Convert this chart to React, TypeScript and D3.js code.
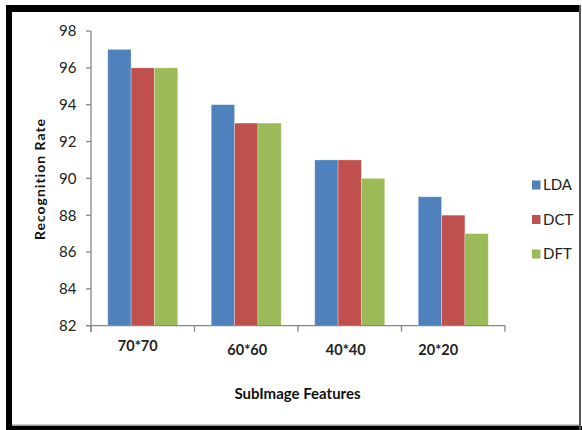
import React from "react";
import * as d3 from "d3";

const categories = ["70*70", "60*60", "40*40", "20*20"];
const seriesNames = ["LDA", "DCT", "DFT"];
const ldaValues = [97, 94, 91, 89];
const dctValues = [96, 93, 91, 88];
const dftValues = [96, 93, 90, 87];
const yTicks = [82, 84, 86, 88, 90, 92, 94, 96, 98];
const colors = ["#4F81BD", "#C0504D", "#9BBB59"];

// layout nudges for the category labels (as placed in the reference)
const labelDx = [-5, 1, -4, -15];
const labelDy = [-4, 0, 0, 0];

const W = 582;
const H = 430;
const plotLeft = 91;
const plotRight = 505;
const plotTop = 31;
const plotBottom = 325.7;
const FONT = "Lato, 'Open Sans', sans-serif";

export default function App() {
  const series = [ldaValues, dctValues, dftValues];
  const x0 = d3
    .scaleBand<string>()
    .domain(categories)
    .range([plotLeft, plotRight])
    .paddingInner(0.324)
    .paddingOuter(0.162);
  const x1 = d3
    .scaleBand<string>()
    .domain(seriesNames)
    .range([0, x0.bandwidth()]);
  const y = d3.scaleLinear().domain([82, 98]).range([plotBottom, plotTop]);
  const step = x0.step();
  const boundaries = d3.range(categories.length + 1).map((i) => plotLeft + i * step);
  const axisColor = "#888888";

  return (
    <svg
      width={W}
      height={H}
      style={{ position: "absolute", left: 0, top: 0, background: "#fff" }}
      fontFamily={FONT}
    >
      <rect x={0} y={0} width={W} height={H} fill="#fff" />
      {/* frame */}
      <rect x={6} y={5} width={575} height={7} fill="#000" />
      <rect x={6} y={5} width={6} height={425} fill="#000" />
      <rect x={6} y={426} width={576} height={4} fill="#000" />
      <rect x={12} y={424.5} width={568} height={1.5} fill="#999" />
      <rect x={579} y={5} width={2} height={425} fill="#555" />

      {/* bars */}
      {categories.map((c, ci) =>
        seriesNames.map((s, si) => {
          const v = series[si][ci];
          const bx = (x0(c) ?? 0) + (x1(s) ?? 0);
          return (
            <rect
              key={c + s}
              x={bx}
              y={y(v)}
              width={x1.bandwidth()}
              height={plotBottom - y(v)}
              fill={colors[si]}
              stroke="#ffffff"
              strokeOpacity={0.35}
              strokeWidth={0.8}
            />
          );
        })
      )}

      {/* y axis */}
      <line x1={plotLeft} x2={plotLeft} y1={plotTop} y2={plotBottom + 6} stroke={axisColor} strokeWidth={1.3} />
      {yTicks.map((t) => (
        <g key={t}>
          <line x1={plotLeft - 5} x2={plotLeft} y1={y(t)} y2={y(t)} stroke={axisColor} strokeWidth={1.3} />
          <text x={76.5} y={y(t)} dy="0.36em" textAnchor="end" fontSize={15} fill="#222">
            {t}
          </text>
        </g>
      ))}

      {/* x axis */}
      <line x1={plotLeft - 5} x2={plotRight} y1={plotBottom} y2={plotBottom} stroke={axisColor} strokeWidth={1.3} />
      {boundaries.map((b, i) => (
        <line key={i} x1={b} x2={b} y1={plotBottom} y2={plotBottom + 6} stroke={axisColor} strokeWidth={1.3} />
      ))}
      {categories.map((c, i) => (
        <text
          key={c}
          x={(x0(c) ?? 0) + x0.bandwidth() / 2 + labelDx[i]}
          y={350 + labelDy[i]}
          dy="0.36em"
          textAnchor="middle"
          fontSize={14.5}
          fontWeight="bold"
          fill="#222"
        >
          {c}
        </text>
      ))}

      {/* axis titles */}
      <text x={297.5} y={394} dy="0.36em" textAnchor="middle" fontSize={15} fontWeight="bold" fill="#111">
        SubImage Features
      </text>
      <text
        transform={`translate(40,179) rotate(-90)`}
        dy="0.36em"
        textAnchor="middle"
        fontSize={14}
        fontWeight="bold"
        letterSpacing={1}
        fill="#111"
      >
        Recognition  Rate
      </text>

      {/* legend */}
      {seriesNames.map((s, i) => (
        <g key={s} transform={`translate(532,${185 + i * 34.5})`}>
          <rect x={0} y={-4.5} width={8.5} height={9} fill={colors[i]} />
          <text x={11} y={0} dy="0.36em" fontSize={15} fill="#222">
            {s}
          </text>
        </g>
      ))}
    </svg>
  );
}
